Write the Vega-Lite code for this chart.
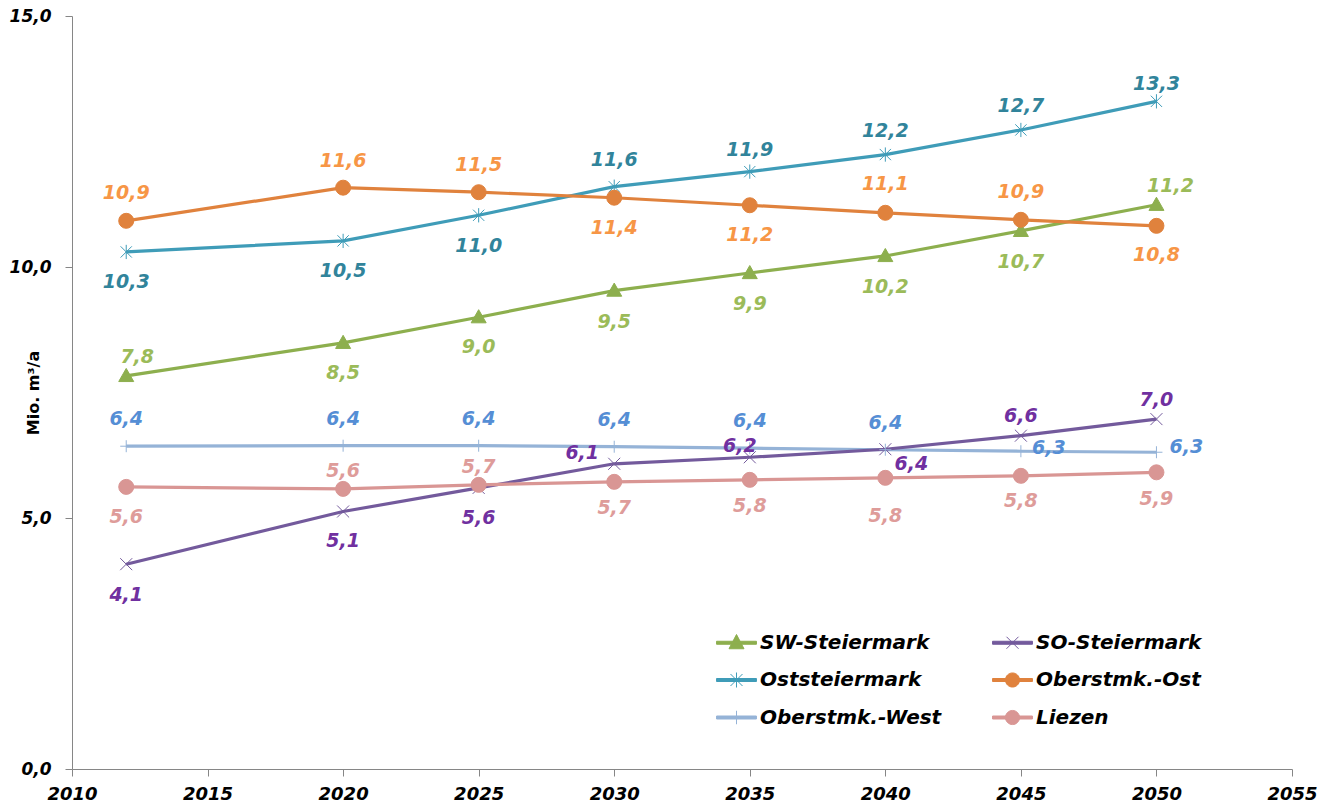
{
  "$schema": "https://vega.github.io/schema/vega-lite/v6.json",
  "width": 1220,
  "height": 753,
  "autosize": {"type": "none"},
  "padding": {"left": 72, "top": 16, "right": 28, "bottom": 36},
  "background": "white",
  "config": {
    "view": {"stroke": null},
    "font": "DejaVu Sans"
  },
  "data": {
    "values": [
      {"region": "SW-Steiermark", "jahr": 2012, "wert": 7.83},
      {"region": "SW-Steiermark", "jahr": 2020, "wert": 8.49},
      {"region": "SW-Steiermark", "jahr": 2025, "wert": 9.0},
      {"region": "SW-Steiermark", "jahr": 2030, "wert": 9.53},
      {"region": "SW-Steiermark", "jahr": 2035, "wert": 9.88},
      {"region": "SW-Steiermark", "jahr": 2040, "wert": 10.22},
      {"region": "SW-Steiermark", "jahr": 2045, "wert": 10.72},
      {"region": "SW-Steiermark", "jahr": 2050, "wert": 11.24},
      {"region": "Oststeiermark", "jahr": 2012, "wert": 10.3},
      {"region": "Oststeiermark", "jahr": 2020, "wert": 10.52},
      {"region": "Oststeiermark", "jahr": 2025, "wert": 11.03},
      {"region": "Oststeiermark", "jahr": 2030, "wert": 11.6},
      {"region": "Oststeiermark", "jahr": 2035, "wert": 11.9},
      {"region": "Oststeiermark", "jahr": 2040, "wert": 12.24},
      {"region": "Oststeiermark", "jahr": 2045, "wert": 12.73},
      {"region": "Oststeiermark", "jahr": 2050, "wert": 13.3},
      {"region": "Oberstmk.-West", "jahr": 2012, "wert": 6.43},
      {"region": "Oberstmk.-West", "jahr": 2020, "wert": 6.44},
      {"region": "Oberstmk.-West", "jahr": 2025, "wert": 6.44},
      {"region": "Oberstmk.-West", "jahr": 2030, "wert": 6.42},
      {"region": "Oberstmk.-West", "jahr": 2035, "wert": 6.39},
      {"region": "Oberstmk.-West", "jahr": 2040, "wert": 6.36},
      {"region": "Oberstmk.-West", "jahr": 2045, "wert": 6.33},
      {"region": "Oberstmk.-West", "jahr": 2050, "wert": 6.31},
      {"region": "SO-Steiermark", "jahr": 2012, "wert": 4.08},
      {"region": "SO-Steiermark", "jahr": 2020, "wert": 5.13},
      {"region": "SO-Steiermark", "jahr": 2025, "wert": 5.6},
      {"region": "SO-Steiermark", "jahr": 2030, "wert": 6.08},
      {"region": "SO-Steiermark", "jahr": 2035, "wert": 6.21},
      {"region": "SO-Steiermark", "jahr": 2040, "wert": 6.37},
      {"region": "SO-Steiermark", "jahr": 2045, "wert": 6.64},
      {"region": "SO-Steiermark", "jahr": 2050, "wert": 6.97},
      {"region": "Oberstmk.-Ost", "jahr": 2012, "wert": 10.92},
      {"region": "Oberstmk.-Ost", "jahr": 2020, "wert": 11.58},
      {"region": "Oberstmk.-Ost", "jahr": 2025, "wert": 11.49},
      {"region": "Oberstmk.-Ost", "jahr": 2030, "wert": 11.38},
      {"region": "Oberstmk.-Ost", "jahr": 2035, "wert": 11.23},
      {"region": "Oberstmk.-Ost", "jahr": 2040, "wert": 11.08},
      {"region": "Oberstmk.-Ost", "jahr": 2045, "wert": 10.94},
      {"region": "Oberstmk.-Ost", "jahr": 2050, "wert": 10.82},
      {"region": "Liezen", "jahr": 2012, "wert": 5.62},
      {"region": "Liezen", "jahr": 2020, "wert": 5.58},
      {"region": "Liezen", "jahr": 2025, "wert": 5.66},
      {"region": "Liezen", "jahr": 2030, "wert": 5.72},
      {"region": "Liezen", "jahr": 2035, "wert": 5.76},
      {"region": "Liezen", "jahr": 2040, "wert": 5.8},
      {"region": "Liezen", "jahr": 2045, "wert": 5.84},
      {"region": "Liezen", "jahr": 2050, "wert": 5.91}
    ]
  },
  "encoding": {
    "x": {
      "field": "jahr",
      "type": "quantitative",
      "scale": {"domain": [2010, 2055], "nice": false, "zero": false},
      "axis": {
        "values": [2010, 2015, 2020, 2025, 2030, 2035, 2040, 2045, 2050, 2055],
        "format": "d",
        "grid": false,
        "title": null,
        "domainColor": "#868686",
        "tickColor": "#868686",
        "tickSize": 7,
        "labelFont": "DejaVu Sans",
        "labelFontSize": 18,
        "labelFontWeight": "bold",
        "labelFontStyle": "italic",
        "labelColor": "black",
        "labelPadding": 9,
        "labelFlush": false
      }
    },
    "y": {
      "field": "wert",
      "type": "quantitative",
      "scale": {"domain": [0, 15], "nice": false},
      "axis": {
        "values": [0, 5, 10, 15],
        "labelExpr": "replace(format(datum.value, '.1f'), '.', ',')",
        "grid": false,
        "title": "Mio. m³/a",
        "titleFont": "DejaVu Sans",
        "titleFontSize": 16,
        "titleFontWeight": "bold",
        "titleColor": "black",
        "titleX": -31,
        "domainColor": "#868686",
        "tickColor": "#868686",
        "tickSize": 7,
        "labelFont": "DejaVu Sans",
        "labelFontSize": 17,
        "labelFontWeight": "bold",
        "labelFontStyle": "italic",
        "labelColor": "black",
        "labelPadding": 14
      }
    }
  },
  "layer": [
    {
      "transform": [{"filter": "false"}],
      "mark": {"type": "point", "filled": true, "strokeWidth": 1, "opacity": 1},
      "encoding": {
        "fill": {
          "field": "region",
          "type": "nominal",
          "scale": {
            "domain": ["SW-Steiermark", "Oststeiermark", "Oberstmk.-West", "SO-Steiermark", "Oberstmk.-Ost", "Liezen"],
            "range": ["#8DAF4E", "#3F9CB8", "#95B3D7", "#735A9C", "#E0823D", "#D99694"]
          },
          "legend": {
            "title": null, "orient": "none", "legendX": 649, "legendY": 611,
            "columns": 2, "columnPadding": 48, "rowPadding": 11.5,
            "symbolSize": 900, "symbolStrokeWidth": 1, "symbolOpacity": 1,
            "labelFont": "DejaVu Sans", "labelFontSize": 20, "labelFontWeight": "bold", "labelFontStyle": "italic",
            "labelColor": "black", "labelOffset": 8, "labelLimit": 400, "padding": 0
          }
        },
        "stroke": {
          "field": "region",
          "type": "nominal",
          "scale": {
            "domain": ["SW-Steiermark", "Oststeiermark", "Oberstmk.-West", "SO-Steiermark", "Oberstmk.-Ost", "Liezen"],
            "range": ["#8DAF4E", "#3F9CB8", "#95B3D7", "#735A9C", "#E0823D", "#D99694"]
          },
          "legend": {
            "title": null, "orient": "none", "legendX": 649, "legendY": 611,
            "columns": 2, "columnPadding": 48, "rowPadding": 11.5,
            "symbolSize": 900, "symbolStrokeWidth": 1, "symbolOpacity": 1,
            "labelFont": "DejaVu Sans", "labelFontSize": 20, "labelFontWeight": "bold", "labelFontStyle": "italic",
            "labelColor": "black", "labelOffset": 8, "labelLimit": 400, "padding": 0
          }
        },
        "shape": {
          "field": "region",
          "type": "nominal",
          "scale": {
            "domain": ["SW-Steiermark", "Oststeiermark", "Oberstmk.-West", "SO-Steiermark", "Oberstmk.-Ost", "Liezen"],
            "range": [
              "M-1.33,-0.1L1.33,-0.1L1.33,0.1L-1.33,0.1Z M0,-0.55L0.5,0.4L-0.5,0.4Z",
              "M-1.33,-0.1L1.33,-0.1L1.33,0.1L-1.33,0.1Z M-0.4,-0.4L0.4,0.4M-0.4,0.4L0.4,-0.4M0,-0.5L0,0.5",
              "M-1.33,-0.1L1.33,-0.1L1.33,0.1L-1.33,0.1Z M0,-0.45L0,0.45",
              "M-1.33,-0.1L1.33,-0.1L1.33,0.1L-1.33,0.1Z M-0.4,-0.4L0.4,0.4M-0.4,0.4L0.4,-0.4",
              "M-1.33,-0.1L1.33,-0.1L1.33,0.1L-1.33,0.1Z M0.47,0A0.47,0.47,0,1,1,-0.47,0A0.47,0.47,0,1,1,0.47,0Z",
              "M-1.33,-0.1L1.33,-0.1L1.33,0.1L-1.33,0.1Z M0.47,0A0.47,0.47,0,1,1,-0.47,0A0.47,0.47,0,1,1,0.47,0Z"
            ]
          },
          "legend": {
            "title": null, "orient": "none", "legendX": 649, "legendY": 611,
            "columns": 2, "columnPadding": 48, "rowPadding": 11.5,
            "symbolSize": 900, "symbolStrokeWidth": 1, "symbolOpacity": 1,
            "labelFont": "DejaVu Sans", "labelFontSize": 20, "labelFontWeight": "bold", "labelFontStyle": "italic",
            "labelColor": "black", "labelOffset": 8, "labelLimit": 400, "padding": 0
          }
        }
      }
    },
    {
      "mark": {"type": "line", "strokeWidth": 3.2},
      "encoding": {
        "stroke": {
          "field": "region",
          "type": "nominal",
          "scale": {
            "domain": ["SW-Steiermark", "Oststeiermark", "Oberstmk.-West", "SO-Steiermark", "Oberstmk.-Ost", "Liezen"],
            "range": ["#8DAF4E", "#3F9CB8", "#95B3D7", "#735A9C", "#E0823D", "#D99694"]
          },
          "legend": null
        }
      }
    },
    {
      "transform": [{"filter": "datum.region === 'SW-Steiermark'"}],
      "mark": {"type": "point", "filled": true, "size": 225, "strokeWidth": 1, "opacity": 1, "shape": "M0,-1L1,0.75L-1,0.75Z"},
      "encoding": {
        "fill": {"field": "region", "type": "nominal", "legend": null},
        "stroke": {"field": "region", "type": "nominal", "legend": null}
      }
    },
    {
      "transform": [{"filter": "datum.region === 'SO-Steiermark'"}],
      "mark": {"type": "point", "filled": true, "size": 225, "strokeWidth": 1, "opacity": 1, "shape": "M-0.8,-0.8L0.8,0.8M-0.8,0.8L0.8,-0.8"},
      "encoding": {
        "fill": {"field": "region", "type": "nominal", "legend": null},
        "stroke": {"field": "region", "type": "nominal", "legend": null}
      }
    },
    {
      "transform": [{"filter": "datum.region === 'Oststeiermark'"}],
      "mark": {"type": "point", "filled": true, "size": 225, "strokeWidth": 1, "opacity": 1, "shape": "M-0.75,-0.75L0.75,0.75M-0.75,0.75L0.75,-0.75M0,-0.95L0,0.95"},
      "encoding": {
        "fill": {"field": "region", "type": "nominal", "legend": null},
        "stroke": {"field": "region", "type": "nominal", "legend": null}
      }
    },
    {
      "transform": [{"filter": "datum.region === 'Oberstmk.-West'"}],
      "mark": {"type": "point", "filled": true, "size": 225, "strokeWidth": 1, "opacity": 1, "shape": "M0,-0.8L0,0.8M-0.8,0L0.8,0"},
      "encoding": {
        "fill": {"field": "region", "type": "nominal", "legend": null},
        "stroke": {"field": "region", "type": "nominal", "legend": null}
      }
    },
    {
      "transform": [{"filter": "datum.region === 'Oberstmk.-Ost' || datum.region === 'Liezen'"}],
      "mark": {"type": "point", "filled": true, "size": 225, "strokeWidth": 1, "opacity": 1, "shape": "circle"},
      "encoding": {
        "fill": {"field": "region", "type": "nominal", "legend": null},
        "stroke": {"field": "region", "type": "nominal", "legend": null}
      }
    },
    {
      "transform": [
        {"calculate": "replace(format(datum.wert, '.1f'), '.', ',')", "as": "beschriftung"}
      ],
      "mark": {
        "type": "text",
        "font": "DejaVu Sans",
        "fontSize": 19,
        "fontWeight": "bold",
        "fontStyle": "italic",
        "align": "center",
        "baseline": "middle",
        "dx": {"expr": "({'SW-Steiermark2012': 11, 'SW-Steiermark2050': 14, 'SO-Steiermark2030': -32, 'SO-Steiermark2035': -10, 'SO-Steiermark2040': 26, 'Oberstmk.-West2045': 28, 'Oberstmk.-West2050': 30})[datum.region + datum.jahr] || 0"},
        "dy": {"expr": "({'SW-Steiermark2012': -19, 'SW-Steiermark2020': 30, 'SW-Steiermark2025': 30, 'SW-Steiermark2030': 31, 'SW-Steiermark2035': 31, 'SW-Steiermark2040': 31, 'SW-Steiermark2045': 31, 'SW-Steiermark2050': -19, 'Oststeiermark2012': 30, 'Oststeiermark2020': 30, 'Oststeiermark2025': 31, 'Oststeiermark2030': -27, 'Oststeiermark2035': -22, 'Oststeiermark2040': -24, 'Oststeiermark2045': -24, 'Oststeiermark2050': -17, 'Oberstmk.-Ost2012': -28, 'Oberstmk.-Ost2020': -27, 'Oberstmk.-Ost2025': -27, 'Oberstmk.-Ost2030': 30, 'Oberstmk.-Ost2035': 30, 'Oberstmk.-Ost2040': -29, 'Oberstmk.-Ost2045': -28, 'Oberstmk.-Ost2050': 29, 'Oberstmk.-West2012': -27, 'Oberstmk.-West2020': -27, 'Oberstmk.-West2025': -27, 'Oberstmk.-West2030': -27, 'Oberstmk.-West2035': -27, 'Oberstmk.-West2040': -27, 'Oberstmk.-West2045': -3, 'Oberstmk.-West2050': -5, 'SO-Steiermark2012': 31, 'SO-Steiermark2020': 30, 'SO-Steiermark2025': 30, 'SO-Steiermark2030': -11, 'SO-Steiermark2035': -11, 'SO-Steiermark2040': 15, 'SO-Steiermark2045': -20, 'SO-Steiermark2050': -19, 'Liezen2012': 30, 'Liezen2020': -18, 'Liezen2025': -18, 'Liezen2030': 26, 'Liezen2035': 26, 'Liezen2040': 38, 'Liezen2045': 25, 'Liezen2050': 27})[datum.region + datum.jahr] || 0"}
      },
      "encoding": {
        "text": {"field": "beschriftung", "type": "nominal"},
        "color": {
          "field": "region",
          "type": "nominal",
          "scale": {
            "domain": ["SW-Steiermark", "Oststeiermark", "Oberstmk.-West", "SO-Steiermark", "Oberstmk.-Ost", "Liezen"],
            "range": ["#9BBB59", "#31849B", "#558ED5", "#7030A0", "#F79646", "#DE9C9A"]
          },
          "legend": null
        }
      }
    }
  ]
}
